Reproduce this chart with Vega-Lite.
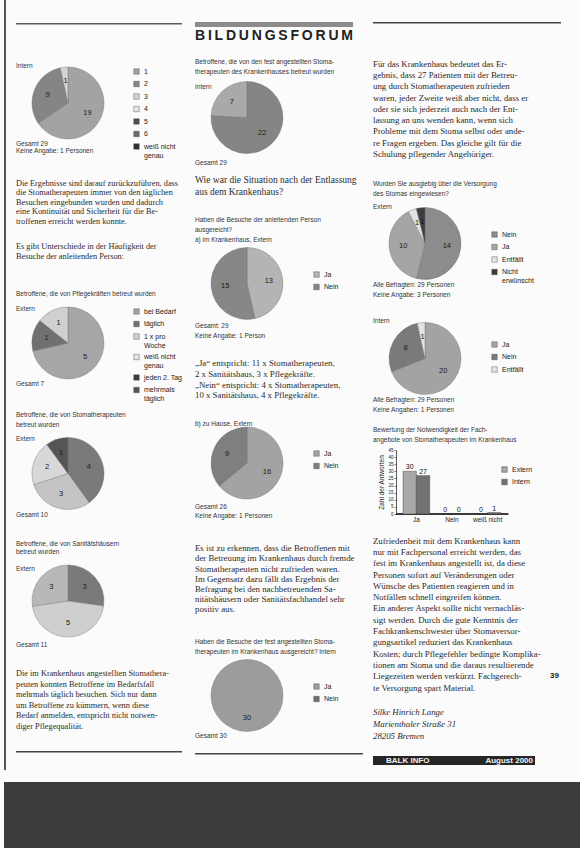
{
"$schema": "https://vega.github.io/schema/vega-lite/v6.json",
"background": "#fbfbfb",
"padding": {"left": 4, "top": 0, "right": 0, "bottom": 0},
"config": {
  "view": {"stroke": null},
  "arc": {"outerRadius": 36, "stroke": "#6e6e6e", "strokeWidth": 0.4},
  "legend": {"labelFont": "Liberation Sans", "labelFontSize": 7, "labelColor": "#222", "symbolType": "square", "symbolSize": 30, "symbolStrokeColor": "#444", "symbolStrokeWidth": 0.5, "rowPadding": 3.5, "labelOffset": 4},
  "axis": {"labelFont": "Liberation Sans", "titleFont": "Liberation Sans", "labelColor": "#222", "titleColor": "#222", "domainColor": "#333", "tickColor": "#333", "grid": false, "titleFontWeight": "normal"}
},
"datasets": {
  "txt": [
    {"g": "int", "i": 0, "t": "Intern"},
    {"g": "ext", "i": 0, "t": "Extern"},
    {"g": "hdr", "i": 0, "t": "B\u2009I\u2009L\u2009D\u2009U\u2009N\u2009G\u2009S\u2009F\u2009O\u2009R\u2009U\u2009M"},
    {"g": "c1b", "i": 0, "t": "Gesamt 29"},
    {"g": "c1b", "i": 1, "t": "Keine Angabe: 1 Personen"},
    {"g": "c1c", "i": 0, "t": "Die Ergebnisse sind darauf zurückzuführen, dass"},
    {"g": "c1c", "i": 1, "t": "die Stomatherapeuten immer von den täglichen"},
    {"g": "c1c", "i": 2, "t": "Besuchen eingebunden wurden und dadurch"},
    {"g": "c1c", "i": 3, "t": "eine Kontinuität und Sicherheit für die Be-"},
    {"g": "c1c", "i": 4, "t": "troffenen erreicht werden konnte."},
    {"g": "c1d", "i": 0, "t": "Es gibt Unterschiede in der Häufigkeit der"},
    {"g": "c1d", "i": 1, "t": "Besuche der anleitenden Person:"},
    {"g": "c1e", "i": 0, "t": "Betroffene, die von Pflegekräften betreut wurden"},
    {"g": "c1g", "i": 0, "t": "Gesamt 7"},
    {"g": "c1h", "i": 0, "t": "Betroffene, die von Stomatherapeuten"},
    {"g": "c1h", "i": 1, "t": "betreut wurden"},
    {"g": "c1i", "i": 0, "t": "Gesamt 10"},
    {"g": "c1j", "i": 0, "t": "Betroffene, die von Sanitätshäusern"},
    {"g": "c1j", "i": 1, "t": "betreut wurden"},
    {"g": "c1k", "i": 0, "t": "Gesamt 11"},
    {"g": "c1l", "i": 0, "t": "Die im Krankenhaus angestellten Stomathera-"},
    {"g": "c1l", "i": 1, "t": "peuten konnten Betroffene im Bedarfsfall"},
    {"g": "c1l", "i": 2, "t": "mehrmals täglich besuchen. Sich nur dann"},
    {"g": "c1l", "i": 3, "t": "um Betroffene zu kümmern, wenn diese"},
    {"g": "c1l", "i": 4, "t": "Bedarf anmelden, entspricht nicht notwen-"},
    {"g": "c1l", "i": 5, "t": "diger Pflegequalität."},
    {"g": "c2a", "i": 0, "t": "Betroffene, die von den fest angestellten Stoma-"},
    {"g": "c2a", "i": 1, "t": "therapeuten des Krankenhauses betreut wurden"},
    {"g": "c2b", "i": 0, "t": "Gesamt 29"},
    {"g": "c2c", "i": 0, "t": "Wie war die Situation nach der Entlassung"},
    {"g": "c2c", "i": 1, "t": "aus dem Krankenhaus?"},
    {"g": "c2d", "i": 0, "t": "Haben die Besuche der anleitenden Person"},
    {"g": "c2d", "i": 1, "t": "ausgereicht?"},
    {"g": "c2d", "i": 2, "t": "a) im Krankenhaus, Extern"},
    {"g": "c2e", "i": 0, "t": "Gesamt: 29"},
    {"g": "c2e", "i": 1, "t": "Keine Angabe: 1 Person"},
    {"g": "c2f", "i": 0, "t": "„Ja“ entspricht: 11 x Stomatherapeuten,"},
    {"g": "c2f", "i": 1, "t": "2 x Sanitätshaus, 3 x Pflegekräfte."},
    {"g": "c2f", "i": 2, "t": "„Nein“ entspricht: 4 x Stomatherapeuten,"},
    {"g": "c2f", "i": 3, "t": "10 x Sanitätshaus, 4 x Pflegekräfte."},
    {"g": "c2g", "i": 0, "t": "b) zu Hause, Extern"},
    {"g": "c2h", "i": 0, "t": "Gesamt 26"},
    {"g": "c2h", "i": 1, "t": "Keine Angabe: 1 Personen"},
    {"g": "c2i", "i": 0, "t": "Es ist zu erkennen, dass die Betroffenen mit"},
    {"g": "c2i", "i": 1, "t": "der Betreuung im Krankenhaus durch fremde"},
    {"g": "c2i", "i": 2, "t": "Stomatherapeuten nicht zufrieden waren."},
    {"g": "c2i", "i": 3, "t": "Im Gegensatz dazu fällt das Ergebnis der"},
    {"g": "c2i", "i": 4, "t": "Befragung bei den nachbetreuenden Sa-"},
    {"g": "c2i", "i": 5, "t": "nitätshäusern oder Sanitätsfachhandel sehr"},
    {"g": "c2i", "i": 6, "t": "positiv aus."},
    {"g": "c2j", "i": 0, "t": "Haben die Besuche der fest angestellten Stoma-"},
    {"g": "c2j", "i": 1, "t": "therapeuten im Krankenhaus ausgereicht? Intern"},
    {"g": "c2k", "i": 0, "t": "Gesamt 30"},
    {"g": "c3a", "i": 0, "t": "Für das Krankenhaus bedeutet das Er-"},
    {"g": "c3a", "i": 1, "t": "gebnis, dass 27 Patienten mit der Betreu-"},
    {"g": "c3a", "i": 2, "t": "ung durch Stomatherapeuten zufrieden"},
    {"g": "c3a", "i": 3, "t": "waren, jeder Zweite weiß aber nicht, dass er"},
    {"g": "c3a", "i": 4, "t": "oder sie sich jederzeit auch nach der Ent-"},
    {"g": "c3a", "i": 5, "t": "lassung an uns wenden kann, wenn sich"},
    {"g": "c3a", "i": 6, "t": "Probleme mit dem Stoma selbst oder ande-"},
    {"g": "c3a", "i": 7, "t": "re Fragen ergeben. Das gleiche gilt für die"},
    {"g": "c3a", "i": 8, "t": "Schulung pflegender Angehöriger."},
    {"g": "c3b", "i": 0, "t": "Wurden Sie ausgiebig über die Versorgung"},
    {"g": "c3b", "i": 1, "t": "des Stomas eingewiesen?"},
    {"g": "c3c", "i": 0, "t": "Alle Befragten: 29 Personen"},
    {"g": "c3c", "i": 1, "t": "Keine Angabe: 3 Personen"},
    {"g": "c3d", "i": 0, "t": "Alle Befragten: 29 Personen"},
    {"g": "c3d", "i": 1, "t": "Keine Angaben: 1 Personen"},
    {"g": "c3e", "i": 0, "t": "Bewertung der Notwendigkeit der Fach-"},
    {"g": "c3e", "i": 1, "t": "angebote von Stomatherapeuten im Krankenhaus"},
    {"g": "c3f", "i": 0, "t": "Zufriedenheit mit dem Krankenhaus kann"},
    {"g": "c3f", "i": 1, "t": "nur mit Fachpersonal erreicht werden, das"},
    {"g": "c3f", "i": 2, "t": "fest im Krankenhaus angestellt ist, da diese"},
    {"g": "c3f", "i": 3, "t": "Personen sofort auf Veränderungen oder"},
    {"g": "c3f", "i": 4, "t": "Wünsche des Patienten reagieren und in"},
    {"g": "c3f", "i": 5, "t": "Notfällen schnell eingreifen können."},
    {"g": "c3f", "i": 6, "t": "Ein anderer Aspekt sollte nicht vernachläs-"},
    {"g": "c3f", "i": 7, "t": "sigt werden. Durch die gute Kenntnis der"},
    {"g": "c3f", "i": 8, "t": "Fachkrankenschwester über Stomaversor-"},
    {"g": "c3f", "i": 9, "t": "gungsartikel reduziert das Krankenhaus"},
    {"g": "c3f", "i": 10, "t": "Kosten; durch Pflegefehler bedingte Komplika-"},
    {"g": "c3f", "i": 11, "t": "tionen am Stoma und die daraus resultierende"},
    {"g": "c3f", "i": 12, "t": "Liegezeiten werden verkürzt. Fachgerech-"},
    {"g": "c3f", "i": 13, "t": "te Versorgung spart Material."},
    {"g": "pg", "i": 12, "t": "39"},
    {"g": "c3g", "i": 0, "t": "Silke Hinrich Lange"},
    {"g": "c3g", "i": 1, "t": "Marienthaler Straße 31"},
    {"g": "c3g", "i": 2, "t": "28205 Bremen"},
    {"g": "ft1", "i": 0, "t": "BALK INFO"},
    {"g": "ft2", "i": 0, "t": "August 2000"}
  ],
  "pies": [
    {"pie": "p1", "cat": "1", "n": 19, "o": 1},
    {"pie": "p1", "cat": "2", "n": 9, "o": 2},
    {"pie": "p1", "cat": "3", "n": 1, "o": 3},
    {"pie": "p2", "cat": "bei Bedarf", "n": 5, "o": 1},
    {"pie": "p2", "cat": "täglich", "n": 1, "o": 2},
    {"pie": "p2", "cat": "1 x pro Woche", "n": 1, "o": 3},
    {"pie": "p3", "cat": "täglich", "n": 4, "o": 1},
    {"pie": "p3", "cat": "1 x pro Woche", "n": 3, "o": 2},
    {"pie": "p3", "cat": "weiß nicht genau", "n": 2, "o": 3},
    {"pie": "p3", "cat": "jeden 2. Tag", "n": 1, "o": 4},
    {"pie": "p4", "cat": "täglich", "n": 3, "o": 1},
    {"pie": "p4", "cat": "1 x pro Woche", "n": 5, "o": 2},
    {"pie": "p4", "cat": "weiß nicht genau", "n": 3, "o": 3},
    {"pie": "q1", "cat": "täglich", "n": 22, "o": 1},
    {"pie": "q1", "cat": "mehrmals täglich", "n": 7, "o": 2},
    {"pie": "q2", "cat": "Ja", "n": 13, "o": 1},
    {"pie": "q2", "cat": "Nein", "n": 15, "o": 2},
    {"pie": "q3", "cat": "Ja", "n": 16, "o": 1},
    {"pie": "q3", "cat": "Nein", "n": 9, "o": 2},
    {"pie": "q4", "cat": "Ja", "n": 30, "o": 1},
    {"pie": "r1", "cat": "Nein", "n": 14, "o": 1},
    {"pie": "r1", "cat": "Ja", "n": 10, "o": 2},
    {"pie": "r1", "cat": "Entfällt", "n": 1, "o": 3},
    {"pie": "r1", "cat": "Nicht erwünscht", "n": 1, "o": 4},
    {"pie": "r2", "cat": "Ja", "n": 20, "o": 1},
    {"pie": "r2", "cat": "Nein", "n": 8, "o": 2},
    {"pie": "r2", "cat": "Entfällt", "n": 1, "o": 3}
  ],
  "bars": [
    {"cat": "Ja", "grp": "Extern", "n": 30},
    {"cat": "Ja", "grp": "Intern", "n": 27},
    {"cat": "Nein", "grp": "Extern", "n": 0},
    {"cat": "Nein", "grp": "Intern", "n": 0},
    {"cat": "weiß nicht", "grp": "Extern", "n": 0},
    {"cat": "weiß nicht", "grp": "Intern", "n": 1}
  ]
},
"spacing": 0,
"resolve": {"scale": {"color": "independent", "theta": "independent"}, "legend": {"color": "independent"}},
"vconcat": [
 {
  "spacing": 10,
  "resolve": {"scale": {"color": "independent", "theta": "independent"}, "legend": {"color": "independent"}},
  "hconcat": [
   {"width": 2, "height": 770, "view": {"fill": "#555"}, "data": {"values": [{}]}, "mark": "text", "encoding": {"text": {"value": ""}}},
   {
    "bounds": "flush", "spacing": 0,
    "resolve": {"scale": {"color": "independent", "theta": "independent"}, "legend": {"color": "independent"}},
    "vconcat": [
     {"width": 10, "height": 23, "data": {"values": [{}]}, "mark": "text", "encoding": {"text": {"value": ""}}},
     {"width": 166, "height": 1.5, "view": {"fill": "#5a5a5a"}, "data": {"values": [{}]}, "mark": "text", "encoding": {"text": {"value": ""}}},
     {"width": 10, "height": 35.5, "data": {"values": [{}]}, "mark": "text", "encoding": {"text": {"value": ""}}},
     {"width": 168, "height": {"step": 10}, "data": {"name": "txt"}, "transform": [{"filter": "datum.g=='int'"}], "mark": {"type": "text", "font": "Liberation Sans", "fontSize": 6.5, "fill": "#333", "align": "left", "baseline": "middle"}, "encoding": {"y": {"field": "i", "type": "ordinal", "axis": null}, "x": {"datum": 0, "type": "quantitative", "scale": {"domain": [0, 1]}, "axis": null}, "text": {"field": "t"}}},
     {"width": 104, "height": 64, "data": {"name": "pies"}, "transform": [{"filter": "datum.pie=='p1'"}],
      "encoding": {"theta": {"field": "n", "type": "quantitative", "stack": true}, "order": {"field": "o", "type": "quantitative"}},
      "layer": [
       {"mark": {"type": "arc"}, "encoding": {"color": {"field": "cat", "type": "nominal", "title": null, "scale": {"domain": ["1", "2", "3", "4", "5", "6", "weiß nicht genau"], "range": ["#a3a3a3", "#858585", "#d2d2d2", "#e6e6e6", "#4d4d4d", "#6a6a6a", "#2e2e2e"]}, "legend": {"orient": "none", "legendX": 117, "legendY": -3, "labelExpr": "datum.label == 'weiß nicht genau' ? ['weiß nicht', 'genau'] : datum.label"}}}},
       {"mark": {"type": "text", "radius": 22, "font": "Liberation Sans", "fontSize": 7.5, "fill": "#1a1a1a", "align": "center", "baseline": "middle"}, "encoding": {"text": {"field": "n", "type": "quantitative"}, "detail": {"field": "cat", "type": "nominal"}}}
      ]},
     {"width": 10, "height": 5, "data": {"values": [{}]}, "mark": "text", "encoding": {"text": {"value": ""}}},
     {"width": 168, "height": {"step": 7}, "data": {"name": "txt"}, "transform": [{"filter": "datum.g=='c1b'"}], "mark": {"type": "text", "font": "Liberation Sans", "fontSize": 6.5, "fill": "#333", "align": "left", "baseline": "middle"}, "encoding": {"y": {"field": "i", "type": "ordinal", "axis": null}, "x": {"datum": 0, "type": "quantitative", "scale": {"domain": [0, 1]}, "axis": null}, "text": {"field": "t"}}},
     {"width": 10, "height": 25, "data": {"values": [{}]}, "mark": "text", "encoding": {"text": {"value": ""}}},
     {"width": 168, "height": {"step": 9.5}, "data": {"name": "txt"}, "transform": [{"filter": "datum.g=='c1c'"}], "mark": {"type": "text", "font": "Liberation Serif", "fontSize": 8.3, "fill": "#2b2b2b", "align": "left", "baseline": "middle"}, "encoding": {"y": {"field": "i", "type": "ordinal", "axis": null}, "x": {"datum": 0, "type": "quantitative", "scale": {"domain": [0, 1]}, "axis": null}, "text": {"field": "t"}}},
     {"width": 10, "height": 14.5, "data": {"values": [{}]}, "mark": "text", "encoding": {"text": {"value": ""}}},
     {"width": 168, "height": {"step": 10}, "data": {"name": "txt"}, "transform": [{"filter": "datum.g=='c1d'"}], "mark": {"type": "text", "font": "Liberation Serif", "fontSize": 8.3, "fill": "#2b2b2b", "align": "left", "baseline": "middle"}, "encoding": {"y": {"field": "i", "type": "ordinal", "axis": null}, "x": {"datum": 0, "type": "quantitative", "scale": {"domain": [0, 1]}, "axis": null}, "text": {"field": "t"}}},
     {"width": 10, "height": 28, "data": {"values": [{}]}, "mark": "text", "encoding": {"text": {"value": ""}}},
     {"width": 168, "height": {"step": 8}, "data": {"name": "txt"}, "transform": [{"filter": "datum.g=='c1e'"}], "mark": {"type": "text", "font": "Liberation Sans", "fontSize": 6.5, "fill": "#333", "align": "left", "baseline": "middle"}, "encoding": {"y": {"field": "i", "type": "ordinal", "axis": null}, "x": {"datum": 0, "type": "quantitative", "scale": {"domain": [0, 1]}, "axis": null}, "text": {"field": "t"}}},
     {"width": 10, "height": 7, "data": {"values": [{}]}, "mark": "text", "encoding": {"text": {"value": ""}}},
     {"width": 168, "height": {"step": 8}, "data": {"name": "txt"}, "transform": [{"filter": "datum.g=='ext'"}], "mark": {"type": "text", "font": "Liberation Sans", "fontSize": 6.5, "fill": "#333", "align": "left", "baseline": "middle"}, "encoding": {"y": {"field": "i", "type": "ordinal", "axis": null}, "x": {"datum": 0, "type": "quantitative", "scale": {"domain": [0, 1]}, "axis": null}, "text": {"field": "t"}}},
     {"width": 104, "height": 60, "data": {"name": "pies"}, "transform": [{"filter": "datum.pie=='p2'"}],
      "encoding": {"theta": {"field": "n", "type": "quantitative", "stack": true}, "order": {"field": "o", "type": "quantitative"}},
      "layer": [
       {"mark": {"type": "arc"}, "encoding": {"color": {"field": "cat", "type": "nominal", "title": null, "scale": {"domain": ["bei Bedarf", "täglich", "1 x pro Woche", "weiß nicht genau", "jeden 2. Tag", "mehrmals täglich"], "range": ["#a6a6a6", "#707070", "#d0d0d0", "#e2e2e2", "#3d3d3d", "#555555"]}, "legend": {"orient": "none", "legendX": 117, "legendY": -5, "labelExpr": "datum.label == '1 x pro Woche' ? ['1 x pro', 'Woche'] : datum.label == 'weiß nicht genau' ? ['weiß nicht', 'genau'] : datum.label == 'mehrmals täglich' ? ['mehrmals', 'täglich'] : datum.label"}}}},
       {"mark": {"type": "text", "radius": 22, "font": "Liberation Sans", "fontSize": 7.5, "fill": "#1a1a1a", "align": "center", "baseline": "middle"}, "encoding": {"text": {"field": "n", "type": "quantitative"}, "detail": {"field": "cat", "type": "nominal"}}}
      ]},
     {"width": 10, "height": 7, "data": {"values": [{}]}, "mark": "text", "encoding": {"text": {"value": ""}}},
     {"width": 168, "height": {"step": 8}, "data": {"name": "txt"}, "transform": [{"filter": "datum.g=='c1g'"}], "mark": {"type": "text", "font": "Liberation Sans", "fontSize": 6.5, "fill": "#333", "align": "left", "baseline": "middle"}, "encoding": {"y": {"field": "i", "type": "ordinal", "axis": null}, "x": {"datum": 0, "type": "quantitative", "scale": {"domain": [0, 1]}, "axis": null}, "text": {"field": "t"}}},
     {"width": 10, "height": 22, "data": {"values": [{}]}, "mark": "text", "encoding": {"text": {"value": ""}}},
     {"width": 168, "height": {"step": 10}, "data": {"name": "txt"}, "transform": [{"filter": "datum.g=='c1h'"}], "mark": {"type": "text", "font": "Liberation Sans", "fontSize": 6.5, "fill": "#333", "align": "left", "baseline": "middle"}, "encoding": {"y": {"field": "i", "type": "ordinal", "axis": null}, "x": {"datum": 0, "type": "quantitative", "scale": {"domain": [0, 1]}, "axis": null}, "text": {"field": "t"}}},
     {"width": 10, "height": 5, "data": {"values": [{}]}, "mark": "text", "encoding": {"text": {"value": ""}}},
     {"width": 168, "height": {"step": 8}, "data": {"name": "txt"}, "transform": [{"filter": "datum.g=='ext'"}], "mark": {"type": "text", "font": "Liberation Sans", "fontSize": 6.5, "fill": "#333", "align": "left", "baseline": "middle"}, "encoding": {"y": {"field": "i", "type": "ordinal", "axis": null}, "x": {"datum": 0, "type": "quantitative", "scale": {"domain": [0, 1]}, "axis": null}, "text": {"field": "t"}}},
     {"width": 104, "height": 61, "data": {"name": "pies"}, "transform": [{"filter": "datum.pie=='p3'"}],
      "encoding": {"theta": {"field": "n", "type": "quantitative", "stack": true}, "order": {"field": "o", "type": "quantitative"}},
      "layer": [
       {"mark": {"type": "arc"}, "encoding": {"color": {"field": "cat", "type": "nominal", "title": null, "scale": {"domain": ["bei Bedarf", "täglich", "1 x pro Woche", "weiß nicht genau", "jeden 2. Tag", "mehrmals täglich"], "range": ["#a6a6a6", "#7a7a7a", "#c4c4c4", "#d8d8d8", "#555555", "#555555"]}, "legend": null}}},
       {"mark": {"type": "text", "radius": 22, "font": "Liberation Sans", "fontSize": 7.5, "fill": "#1a1a1a", "align": "center", "baseline": "middle"}, "encoding": {"text": {"field": "n", "type": "quantitative"}, "detail": {"field": "cat", "type": "nominal"}}}
      ]},
     {"width": 10, "height": 7, "data": {"values": [{}]}, "mark": "text", "encoding": {"text": {"value": ""}}},
     {"width": 168, "height": {"step": 8}, "data": {"name": "txt"}, "transform": [{"filter": "datum.g=='c1i'"}], "mark": {"type": "text", "font": "Liberation Sans", "fontSize": 6.5, "fill": "#333", "align": "left", "baseline": "middle"}, "encoding": {"y": {"field": "i", "type": "ordinal", "axis": null}, "x": {"datum": 0, "type": "quantitative", "scale": {"domain": [0, 1]}, "axis": null}, "text": {"field": "t"}}},
     {"width": 10, "height": 21, "data": {"values": [{}]}, "mark": "text", "encoding": {"text": {"value": ""}}},
     {"width": 168, "height": {"step": 8}, "data": {"name": "txt"}, "transform": [{"filter": "datum.g=='c1j'"}], "mark": {"type": "text", "font": "Liberation Sans", "fontSize": 6.5, "fill": "#333", "align": "left", "baseline": "middle"}, "encoding": {"y": {"field": "i", "type": "ordinal", "axis": null}, "x": {"datum": 0, "type": "quantitative", "scale": {"domain": [0, 1]}, "axis": null}, "text": {"field": "t"}}},
     {"width": 10, "height": 9, "data": {"values": [{}]}, "mark": "text", "encoding": {"text": {"value": ""}}},
     {"width": 168, "height": {"step": 8}, "data": {"name": "txt"}, "transform": [{"filter": "datum.g=='ext'"}], "mark": {"type": "text", "font": "Liberation Sans", "fontSize": 6.5, "fill": "#333", "align": "left", "baseline": "middle"}, "encoding": {"y": {"field": "i", "type": "ordinal", "axis": null}, "x": {"datum": 0, "type": "quantitative", "scale": {"domain": [0, 1]}, "axis": null}, "text": {"field": "t"}}},
     {"width": 104, "height": 56, "data": {"name": "pies"}, "transform": [{"filter": "datum.pie=='p4'"}],
      "encoding": {"theta": {"field": "n", "type": "quantitative", "stack": true}, "order": {"field": "o", "type": "quantitative"}},
      "layer": [
       {"mark": {"type": "arc"}, "encoding": {"color": {"field": "cat", "type": "nominal", "title": null, "scale": {"domain": ["bei Bedarf", "täglich", "1 x pro Woche", "weiß nicht genau", "jeden 2. Tag", "mehrmals täglich"], "range": ["#a6a6a6", "#7a7a7a", "#cfcfcf", "#b8b8b8", "#555555", "#555555"]}, "legend": null}}},
       {"mark": {"type": "text", "radius": 22, "font": "Liberation Sans", "fontSize": 7.5, "fill": "#1a1a1a", "align": "center", "baseline": "middle"}, "encoding": {"text": {"field": "n", "type": "quantitative"}, "detail": {"field": "cat", "type": "nominal"}}}
      ]},
     {"width": 10, "height": 12, "data": {"values": [{}]}, "mark": "text", "encoding": {"text": {"value": ""}}},
     {"width": 168, "height": {"step": 8}, "data": {"name": "txt"}, "transform": [{"filter": "datum.g=='c1k'"}], "mark": {"type": "text", "font": "Liberation Sans", "fontSize": 6.5, "fill": "#333", "align": "left", "baseline": "middle"}, "encoding": {"y": {"field": "i", "type": "ordinal", "axis": null}, "x": {"datum": 0, "type": "quantitative", "scale": {"domain": [0, 1]}, "axis": null}, "text": {"field": "t"}}},
     {"width": 10, "height": 20, "data": {"values": [{}]}, "mark": "text", "encoding": {"text": {"value": ""}}},
     {"width": 168, "height": {"step": 10.5}, "data": {"name": "txt"}, "transform": [{"filter": "datum.g=='c1l'"}], "mark": {"type": "text", "font": "Liberation Serif", "fontSize": 8.3, "fill": "#2b2b2b", "align": "left", "baseline": "middle"}, "encoding": {"y": {"field": "i", "type": "ordinal", "axis": null}, "x": {"datum": 0, "type": "quantitative", "scale": {"domain": [0, 1]}, "axis": null}, "text": {"field": "t"}}},
     {"width": 10, "height": 19, "data": {"values": [{}]}, "mark": "text", "encoding": {"text": {"value": ""}}},
     {"width": 166, "height": 1.5, "view": {"fill": "#444"}, "data": {"values": [{}]}, "mark": "text", "encoding": {"text": {"value": ""}}},
     {"width": 10, "height": 26.5, "data": {"values": [{}]}, "mark": "text", "encoding": {"text": {"value": ""}}}
    ]
   },
   {
    "bounds": "flush", "spacing": 0,
    "resolve": {"scale": {"color": "independent", "theta": "independent"}, "legend": {"color": "independent"}},
    "vconcat": [
     {"width": 10, "height": 22, "data": {"values": [{}]}, "mark": "text", "encoding": {"text": {"value": ""}}},
     {"width": 158, "height": 5, "view": {"fill": "#8c8c8c"}, "data": {"values": [{}]}, "mark": "text", "encoding": {"text": {"value": ""}}},
     {"width": 158, "height": 18, "data": {"name": "txt"}, "transform": [{"filter": "datum.g=='hdr'"}], "mark": {"type": "text", "font": "Liberation Sans", "fontSize": 14, "fontWeight": "bold", "fill": "#222", "align": "center", "baseline": "middle"}, "encoding": {"text": {"field": "t"}}},
     {"width": 10, "height": 12, "data": {"values": [{}]}, "mark": "text", "encoding": {"text": {"value": ""}}},
     {"width": 168, "height": {"step": 10}, "data": {"name": "txt"}, "transform": [{"filter": "datum.g=='c2a'"}], "mark": {"type": "text", "font": "Liberation Sans", "fontSize": 6.5, "fill": "#333", "align": "left", "baseline": "middle"}, "encoding": {"y": {"field": "i", "type": "ordinal", "axis": null}, "x": {"datum": 0, "type": "quantitative", "scale": {"domain": [0, 1]}, "axis": null}, "text": {"field": "t"}}},
     {"width": 10, "height": 5, "data": {"values": [{}]}, "mark": "text", "encoding": {"text": {"value": ""}}},
     {"width": 168, "height": {"step": 10}, "data": {"name": "txt"}, "transform": [{"filter": "datum.g=='int'"}], "mark": {"type": "text", "font": "Liberation Sans", "fontSize": 6.5, "fill": "#333", "align": "left", "baseline": "middle"}, "encoding": {"y": {"field": "i", "type": "ordinal", "axis": null}, "x": {"datum": 0, "type": "quantitative", "scale": {"domain": [0, 1]}, "axis": null}, "text": {"field": "t"}}},
     {"width": 104, "height": 51, "data": {"name": "pies"}, "transform": [{"filter": "datum.pie=='q1'"}],
      "encoding": {"theta": {"field": "n", "type": "quantitative", "stack": true}, "order": {"field": "o", "type": "quantitative"}},
      "layer": [
       {"mark": {"type": "arc"}, "encoding": {"color": {"field": "cat", "type": "nominal", "title": null, "scale": {"domain": ["täglich", "mehrmals täglich"], "range": ["#858585", "#a9a9a9"]}, "legend": null}}},
       {"mark": {"type": "text", "radius": 22, "font": "Liberation Sans", "fontSize": 7.5, "fill": "#1a1a1a", "align": "center", "baseline": "middle"}, "encoding": {"text": {"field": "n", "type": "quantitative"}, "detail": {"field": "cat", "type": "nominal"}}}
      ]},
     {"width": 10, "height": 16, "data": {"values": [{}]}, "mark": "text", "encoding": {"text": {"value": ""}}},
     {"width": 168, "height": {"step": 8}, "data": {"name": "txt"}, "transform": [{"filter": "datum.g=='c2b'"}], "mark": {"type": "text", "font": "Liberation Sans", "fontSize": 6.5, "fill": "#333", "align": "left", "baseline": "middle"}, "encoding": {"y": {"field": "i", "type": "ordinal", "axis": null}, "x": {"datum": 0, "type": "quantitative", "scale": {"domain": [0, 1]}, "axis": null}, "text": {"field": "t"}}},
     {"width": 10, "height": 7, "data": {"values": [{}]}, "mark": "text", "encoding": {"text": {"value": ""}}},
     {"width": 168, "height": {"step": 12}, "data": {"name": "txt"}, "transform": [{"filter": "datum.g=='c2c'"}], "mark": {"type": "text", "font": "Liberation Serif", "fontSize": 9.5, "fill": "#2b2b2b", "align": "left", "baseline": "middle"}, "encoding": {"y": {"field": "i", "type": "ordinal", "axis": null}, "x": {"datum": 0, "type": "quantitative", "scale": {"domain": [0, 1]}, "axis": null}, "text": {"field": "t"}}},
     {"width": 10, "height": 17, "data": {"values": [{}]}, "mark": "text", "encoding": {"text": {"value": ""}}},
     {"width": 168, "height": {"step": 10}, "data": {"name": "txt"}, "transform": [{"filter": "datum.g=='c2d'"}], "mark": {"type": "text", "font": "Liberation Sans", "fontSize": 6.5, "fill": "#333", "align": "left", "baseline": "middle"}, "encoding": {"y": {"field": "i", "type": "ordinal", "axis": null}, "x": {"datum": 0, "type": "quantitative", "scale": {"domain": [0, 1]}, "axis": null}, "text": {"field": "t"}}},
     {"width": 10, "height": 5, "data": {"values": [{}]}, "mark": "text", "encoding": {"text": {"value": ""}}},
     {"width": 104, "height": 67, "data": {"name": "pies"}, "transform": [{"filter": "datum.pie=='q2'"}],
      "encoding": {"theta": {"field": "n", "type": "quantitative", "stack": true}, "order": {"field": "o", "type": "quantitative"}},
      "layer": [
       {"mark": {"type": "arc"}, "encoding": {"color": {"field": "cat", "type": "nominal", "title": null, "scale": {"domain": ["Ja", "Nein"], "range": ["#b4b4b4", "#878787"]}, "legend": {"orient": "none", "legendX": 118, "legendY": 21}}}},
       {"mark": {"type": "text", "radius": 22, "font": "Liberation Sans", "fontSize": 7.5, "fill": "#1a1a1a", "align": "center", "baseline": "middle"}, "encoding": {"text": {"field": "n", "type": "quantitative"}, "detail": {"field": "cat", "type": "nominal"}}}
      ]},
     {"width": 10, "height": 4, "data": {"values": [{}]}, "mark": "text", "encoding": {"text": {"value": ""}}},
     {"width": 168, "height": {"step": 10}, "data": {"name": "txt"}, "transform": [{"filter": "datum.g=='c2e'"}], "mark": {"type": "text", "font": "Liberation Sans", "fontSize": 6.5, "fill": "#333", "align": "left", "baseline": "middle"}, "encoding": {"y": {"field": "i", "type": "ordinal", "axis": null}, "x": {"datum": 0, "type": "quantitative", "scale": {"domain": [0, 1]}, "axis": null}, "text": {"field": "t"}}},
     {"width": 10, "height": 16.5, "data": {"values": [{}]}, "mark": "text", "encoding": {"text": {"value": ""}}},
     {"width": 168, "height": {"step": 10.7}, "data": {"name": "txt"}, "transform": [{"filter": "datum.g=='c2f'"}], "mark": {"type": "text", "font": "Liberation Serif", "fontSize": 8.8, "fill": "#2b2b2b", "align": "left", "baseline": "middle"}, "encoding": {"y": {"field": "i", "type": "ordinal", "axis": null}, "x": {"datum": 0, "type": "quantitative", "scale": {"domain": [0, 1]}, "axis": null}, "text": {"field": "t"}}},
     {"width": 10, "height": 17.2, "data": {"values": [{}]}, "mark": "text", "encoding": {"text": {"value": ""}}},
     {"width": 168, "height": {"step": 9}, "data": {"name": "txt"}, "transform": [{"filter": "datum.g=='c2g'"}], "mark": {"type": "text", "font": "Liberation Sans", "fontSize": 6.5, "fill": "#333", "align": "left", "baseline": "middle"}, "encoding": {"y": {"field": "i", "type": "ordinal", "axis": null}, "x": {"datum": 0, "type": "quantitative", "scale": {"domain": [0, 1]}, "axis": null}, "text": {"field": "t"}}},
     {"width": 10, "height": 0.5, "data": {"values": [{}]}, "mark": "text", "encoding": {"text": {"value": ""}}},
     {"width": 104, "height": 68, "data": {"name": "pies"}, "transform": [{"filter": "datum.pie=='q3'"}],
      "encoding": {"theta": {"field": "n", "type": "quantitative", "stack": true}, "order": {"field": "o", "type": "quantitative"}},
      "layer": [
       {"mark": {"type": "arc"}, "encoding": {"color": {"field": "cat", "type": "nominal", "title": null, "scale": {"domain": ["Ja", "Nein"], "range": ["#a3a3a3", "#7f7f7f"]}, "legend": {"orient": "none", "legendX": 118, "legendY": 21}}}},
       {"mark": {"type": "text", "radius": 22, "font": "Liberation Sans", "fontSize": 7.5, "fill": "#1a1a1a", "align": "center", "baseline": "middle"}, "encoding": {"text": {"field": "n", "type": "quantitative"}, "detail": {"field": "cat", "type": "nominal"}}}
      ]},
     {"width": 10, "height": 4.5, "data": {"values": [{}]}, "mark": "text", "encoding": {"text": {"value": ""}}},
     {"width": 168, "height": {"step": 9}, "data": {"name": "txt"}, "transform": [{"filter": "datum.g=='c2h'"}], "mark": {"type": "text", "font": "Liberation Sans", "fontSize": 6.5, "fill": "#333", "align": "left", "baseline": "middle"}, "encoding": {"y": {"field": "i", "type": "ordinal", "axis": null}, "x": {"datum": 0, "type": "quantitative", "scale": {"domain": [0, 1]}, "axis": null}, "text": {"field": "t"}}},
     {"width": 10, "height": 22.5, "data": {"values": [{}]}, "mark": "text", "encoding": {"text": {"value": ""}}},
     {"width": 168, "height": {"step": 10.2}, "data": {"name": "txt"}, "transform": [{"filter": "datum.g=='c2i'"}], "mark": {"type": "text", "font": "Liberation Serif", "fontSize": 8.8, "fill": "#2b2b2b", "align": "left", "baseline": "middle"}, "encoding": {"y": {"field": "i", "type": "ordinal", "axis": null}, "x": {"datum": 0, "type": "quantitative", "scale": {"domain": [0, 1]}, "axis": null}, "text": {"field": "t"}}},
     {"width": 10, "height": 21.6, "data": {"values": [{}]}, "mark": "text", "encoding": {"text": {"value": ""}}},
     {"width": 168, "height": {"step": 10}, "data": {"name": "txt"}, "transform": [{"filter": "datum.g=='c2j'"}], "mark": {"type": "text", "font": "Liberation Sans", "fontSize": 6.5, "fill": "#333", "align": "left", "baseline": "middle"}, "encoding": {"y": {"field": "i", "type": "ordinal", "axis": null}, "x": {"datum": 0, "type": "quantitative", "scale": {"domain": [0, 1]}, "axis": null}, "text": {"field": "t"}}},
     {"width": 10, "height": 5, "data": {"values": [{}]}, "mark": "text", "encoding": {"text": {"value": ""}}},
     {"width": 104, "height": 67, "data": {"name": "pies"}, "transform": [{"filter": "datum.pie=='q4'"}],
      "encoding": {"theta": {"field": "n", "type": "quantitative", "stack": true}, "order": {"field": "o", "type": "quantitative"}},
      "layer": [
       {"mark": {"type": "arc"}, "encoding": {"color": {"field": "cat", "type": "nominal", "title": null, "scale": {"domain": ["Ja", "Nein"], "range": ["#9c9c9c", "#6f6f6f"]}, "legend": {"orient": "none", "legendX": 118, "legendY": 21}}}},
       {"mark": {"type": "text", "radius": 22, "font": "Liberation Sans", "fontSize": 7.5, "fill": "#1a1a1a", "align": "center", "baseline": "middle"}, "encoding": {"text": {"field": "n", "type": "quantitative"}, "detail": {"field": "cat", "type": "nominal"}}}
      ]},
     {"width": 10, "height": 3, "data": {"values": [{}]}, "mark": "text", "encoding": {"text": {"value": ""}}},
     {"width": 168, "height": {"step": 8}, "data": {"name": "txt"}, "transform": [{"filter": "datum.g=='c2k'"}], "mark": {"type": "text", "font": "Liberation Sans", "fontSize": 6.5, "fill": "#333", "align": "left", "baseline": "middle"}, "encoding": {"y": {"field": "i", "type": "ordinal", "axis": null}, "x": {"datum": 0, "type": "quantitative", "scale": {"domain": [0, 1]}, "axis": null}, "text": {"field": "t"}}},
     {"width": 10, "height": 13, "data": {"values": [{}]}, "mark": "text", "encoding": {"text": {"value": ""}}},
     {"width": 168, "height": 1.5, "view": {"fill": "#444"}, "data": {"values": [{}]}, "mark": "text", "encoding": {"text": {"value": ""}}},
     {"width": 10, "height": 26.5, "data": {"values": [{}]}, "mark": "text", "encoding": {"text": {"value": ""}}}
    ]
   },
   {
    "bounds": "flush", "spacing": 0,
    "resolve": {"scale": {"color": "independent", "theta": "independent"}, "legend": {"color": "independent"}},
    "vconcat": [
     {"width": 10, "height": 21.5, "data": {"values": [{}]}, "mark": "text", "encoding": {"text": {"value": ""}}},
     {"width": 188, "height": 1.5, "view": {"fill": "#444"}, "data": {"values": [{}]}, "mark": "text", "encoding": {"text": {"value": ""}}},
     {"width": 10, "height": 33.35, "data": {"values": [{}]}, "mark": "text", "encoding": {"text": {"value": ""}}},
     {"width": 190, "height": {"step": 11.3}, "data": {"name": "txt"}, "transform": [{"filter": "datum.g=='c3a'"}], "mark": {"type": "text", "font": "Liberation Serif", "fontSize": 8.8, "fill": "#2b2b2b", "align": "left", "baseline": "middle"}, "encoding": {"y": {"field": "i", "type": "ordinal", "axis": null}, "x": {"datum": 0, "type": "quantitative", "scale": {"domain": [0, 1]}, "axis": null}, "text": {"field": "t"}}},
     {"width": 10, "height": 18.95, "data": {"values": [{}]}, "mark": "text", "encoding": {"text": {"value": ""}}},
     {"width": 190, "height": {"step": 10}, "data": {"name": "txt"}, "transform": [{"filter": "datum.g=='c3b'"}], "mark": {"type": "text", "font": "Liberation Sans", "fontSize": 6.5, "fill": "#333", "align": "left", "baseline": "middle"}, "encoding": {"y": {"field": "i", "type": "ordinal", "axis": null}, "x": {"datum": 0, "type": "quantitative", "scale": {"domain": [0, 1]}, "axis": null}, "text": {"field": "t"}}},
     {"width": 10, "height": 4, "data": {"values": [{}]}, "mark": "text", "encoding": {"text": {"value": ""}}},
     {"width": 190, "height": {"step": 8}, "data": {"name": "txt"}, "transform": [{"filter": "datum.g=='ext'"}], "mark": {"type": "text", "font": "Liberation Sans", "fontSize": 6.5, "fill": "#333", "align": "left", "baseline": "middle"}, "encoding": {"y": {"field": "i", "type": "ordinal", "axis": null}, "x": {"datum": 0, "type": "quantitative", "scale": {"domain": [0, 1]}, "axis": null}, "text": {"field": "t"}}},
     {"width": 10, "height": 1, "data": {"values": [{}]}, "mark": "text", "encoding": {"text": {"value": ""}}},
     {"width": 104, "height": 63, "data": {"name": "pies"}, "transform": [{"filter": "datum.pie=='r1'"}],
      "encoding": {"theta": {"field": "n", "type": "quantitative", "stack": true}, "order": {"field": "o", "type": "quantitative"}},
      "layer": [
       {"mark": {"type": "arc"}, "encoding": {"color": {"field": "cat", "type": "nominal", "title": null, "scale": {"domain": ["Nein", "Ja", "Entfällt", "Nicht erwünscht"], "range": ["#8c8c8c", "#a5a5a5", "#e3e3e3", "#3e3e3e"]}, "legend": {"orient": "none", "legendX": 118, "legendY": 19, "labelExpr": "datum.label == 'Nicht erwünscht' ? ['Nicht', 'erwünscht'] : datum.label"}}}},
       {"mark": {"type": "text", "radius": 22, "font": "Liberation Sans", "fontSize": 7.5, "fill": "#1a1a1a", "align": "center", "baseline": "middle"}, "encoding": {"text": {"field": "n", "type": "quantitative"}, "detail": {"field": "cat", "type": "nominal"}}}
      ]},
     {"width": 10, "height": 5, "data": {"values": [{}]}, "mark": "text", "encoding": {"text": {"value": ""}}},
     {"width": 190, "height": {"step": 10}, "data": {"name": "txt"}, "transform": [{"filter": "datum.g=='c3c'"}], "mark": {"type": "text", "font": "Liberation Sans", "fontSize": 6.5, "fill": "#333", "align": "left", "baseline": "middle"}, "encoding": {"y": {"field": "i", "type": "ordinal", "axis": null}, "x": {"datum": 0, "type": "quantitative", "scale": {"domain": [0, 1]}, "axis": null}, "text": {"field": "t"}}},
     {"width": 10, "height": 17, "data": {"values": [{}]}, "mark": "text", "encoding": {"text": {"value": ""}}},
     {"width": 190, "height": {"step": 8}, "data": {"name": "txt"}, "transform": [{"filter": "datum.g=='int'"}], "mark": {"type": "text", "font": "Liberation Sans", "fontSize": 6.5, "fill": "#333", "align": "left", "baseline": "middle"}, "encoding": {"y": {"field": "i", "type": "ordinal", "axis": null}, "x": {"datum": 0, "type": "quantitative", "scale": {"domain": [0, 1]}, "axis": null}, "text": {"field": "t"}}},
     {"width": 10, "height": 2, "data": {"values": [{}]}, "mark": "text", "encoding": {"text": {"value": ""}}},
     {"width": 104, "height": 63, "data": {"name": "pies"}, "transform": [{"filter": "datum.pie=='r2'"}],
      "encoding": {"theta": {"field": "n", "type": "quantitative", "stack": true}, "order": {"field": "o", "type": "quantitative"}},
      "layer": [
       {"mark": {"type": "arc"}, "encoding": {"color": {"field": "cat", "type": "nominal", "title": null, "scale": {"domain": ["Ja", "Nein", "Entfällt"], "range": ["#a3a3a3", "#7a7a7a", "#e3e3e3"]}, "legend": {"orient": "none", "legendX": 118, "legendY": 14}}}},
       {"mark": {"type": "text", "radius": 22, "font": "Liberation Sans", "fontSize": 7.5, "fill": "#1a1a1a", "align": "center", "baseline": "middle"}, "encoding": {"text": {"field": "n", "type": "quantitative"}, "detail": {"field": "cat", "type": "nominal"}}}
      ]},
     {"width": 10, "height": 5, "data": {"values": [{}]}, "mark": "text", "encoding": {"text": {"value": ""}}},
     {"width": 190, "height": {"step": 10}, "data": {"name": "txt"}, "transform": [{"filter": "datum.g=='c3d'"}], "mark": {"type": "text", "font": "Liberation Sans", "fontSize": 6.5, "fill": "#333", "align": "left", "baseline": "middle"}, "encoding": {"y": {"field": "i", "type": "ordinal", "axis": null}, "x": {"datum": 0, "type": "quantitative", "scale": {"domain": [0, 1]}, "axis": null}, "text": {"field": "t"}}},
     {"width": 10, "height": 10, "data": {"values": [{}]}, "mark": "text", "encoding": {"text": {"value": ""}}},
     {"width": 190, "height": {"step": 10}, "data": {"name": "txt"}, "transform": [{"filter": "datum.g=='c3e'"}], "mark": {"type": "text", "font": "Liberation Sans", "fontSize": 6.5, "fill": "#333", "align": "left", "baseline": "middle"}, "encoding": {"y": {"field": "i", "type": "ordinal", "axis": null}, "x": {"datum": 0, "type": "quantitative", "scale": {"domain": [0, 1]}, "axis": null}, "text": {"field": "t"}}},
     {"width": 10, "height": 5, "data": {"values": [{}]}, "mark": "text", "encoding": {"text": {"value": ""}}},
     {"width": 135, "height": 64, "data": {"name": "bars"},
      "encoding": {
       "x": {"field": "cat", "type": "nominal", "sort": ["Ja", "Nein", "weiß nicht"], "scale": {"paddingInner": 0.25, "paddingOuter": 0.52, "align": 0.81}, "axis": {"title": null, "labelAngle": 0, "ticks": false, "labelFontSize": 6.5, "labelPadding": 2, "domain": false}},
       "y": {"field": "n", "type": "quantitative", "scale": {"domain": [0, 45]}, "axis": {"title": "Zahl der Antworten", "offset": -23, "values": [0, 5, 10, 15, 20, 25, 30, 35, 40, 45], "labelFontSize": 4.5, "tickSize": 2, "labelPadding": 1, "titleFontSize": 6.5, "titlePadding": 3, "domainWidth": 0.8, "tickWidth": 0.6}}
      },
      "layer": [
       {"mark": {"type": "rule", "color": "#333", "strokeWidth": 0.8}, "encoding": {"x": {"datum": "Ja", "bandPosition": -0.26}, "x2": {"datum": "weiß nicht", "bandPosition": 1.27}, "y": {"datum": 0}}},
       {"mark": {"type": "bar", "stroke": "#333", "strokeWidth": 0.4}, "encoding": {"xOffset": {"field": "grp", "type": "nominal", "sort": ["Extern", "Intern"]}, "color": {"field": "grp", "type": "nominal", "title": null, "scale": {"domain": ["Extern", "Intern"], "range": ["#a8a8a8", "#727272"]}, "legend": {"orient": "none", "legendX": 128, "legendY": 16}}}},
       {"mark": {"type": "text", "dy": -1, "font": "Liberation Sans", "fontSize": 7, "fill": "#111", "align": "center", "baseline": "bottom"}, "encoding": {"xOffset": {"field": "grp", "type": "nominal", "sort": ["Extern", "Intern"]}, "text": {"field": "n", "type": "quantitative"}}}
      ]},
     {"width": 10, "height": 20.35, "data": {"values": [{}]}, "mark": "text", "encoding": {"text": {"value": ""}}},
     {"width": 190, "height": {"step": 11.3}, "data": {"name": "txt"},
      "encoding": {"y": {"field": "i", "type": "ordinal", "axis": null}, "text": {"field": "t"}},
      "layer": [
       {"transform": [{"filter": "datum.g=='c3f'"}], "mark": {"type": "text", "font": "Liberation Serif", "fontSize": 8.8, "fill": "#2b2b2b", "align": "left", "baseline": "middle"}, "encoding": {"x": {"datum": 0, "type": "quantitative", "scale": {"domain": [0, 1]}, "axis": null}}},
       {"transform": [{"filter": "datum.g=='pg'"}], "mark": {"type": "text", "font": "Liberation Sans", "fontSize": 8, "fontWeight": "bold", "fill": "#222", "align": "right", "baseline": "middle", "dx": -4}, "encoding": {"x": {"datum": 1, "type": "quantitative", "scale": {"domain": [0, 1]}, "axis": null}}}
      ]},
     {"width": 10, "height": 11.45, "data": {"values": [{}]}, "mark": "text", "encoding": {"text": {"value": ""}}},
     {"width": 190, "height": {"step": 12}, "data": {"name": "txt"}, "transform": [{"filter": "datum.g=='c3g'"}], "mark": {"type": "text", "font": "Liberation Serif", "fontSize": 8.8, "fontStyle": "italic", "fill": "#2b2b2b", "align": "left", "baseline": "middle"}, "encoding": {"y": {"field": "i", "type": "ordinal", "axis": null}, "x": {"datum": 0, "type": "quantitative", "scale": {"domain": [0, 1]}, "axis": null}, "text": {"field": "t"}}},
     {"width": 10, "height": 14, "data": {"values": [{}]}, "mark": "text", "encoding": {"text": {"value": ""}}},
     {"width": 162, "height": 9, "view": {"fill": "#262626"}, "data": {"name": "txt"},
      "encoding": {"text": {"field": "t"}},
      "layer": [
       {"transform": [{"filter": "datum.g=='ft1'"}], "mark": {"type": "text", "font": "Liberation Sans", "fontSize": 8, "fontWeight": "bold", "fill": "#f2f2f2", "align": "left", "baseline": "middle", "dx": 13}, "encoding": {"x": {"datum": 0, "type": "quantitative", "scale": {"domain": [0, 1]}, "axis": null}}},
       {"transform": [{"filter": "datum.g=='ft2'"}], "mark": {"type": "text", "font": "Liberation Sans", "fontSize": 8, "fontWeight": "bold", "fill": "#f2f2f2", "align": "right", "baseline": "middle", "dx": -2}, "encoding": {"x": {"datum": 1, "type": "quantitative", "scale": {"domain": [0, 1]}, "axis": null}}}
      ]},
     {"width": 10, "height": 16, "data": {"values": [{}]}, "mark": "text", "encoding": {"text": {"value": ""}}}
    ]
   }
  ]
 },
 {"width": 576, "height": 71, "view": {"fill": "#3c3c3c"}, "data": {"values": [{}]}, "mark": "text", "encoding": {"text": {"value": ""}}}
]
}
